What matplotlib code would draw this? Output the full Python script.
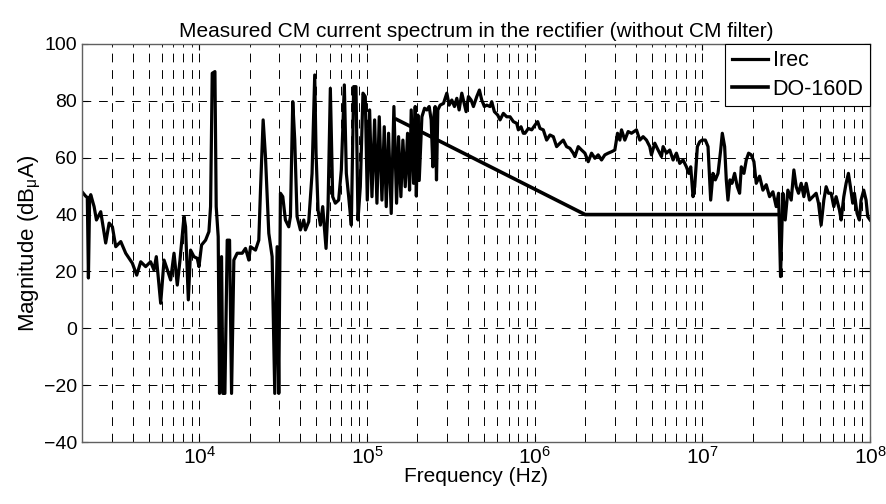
import matplotlib
matplotlib.use("Agg")
import matplotlib.pyplot as plt
from matplotlib.ticker import LogLocator, FixedLocator
import numpy as np

plt.rcParams['font.family'] = ['Liberation Sans', 'DejaVu Sans']
plt.rcParams['mathtext.fontset'] = 'custom'
plt.rcParams['mathtext.rm'] = 'Liberation Sans'
plt.rcParams['mathtext.it'] = 'Liberation Sans:italic'

# measured CM current in the rectifier (Hz, dBuA)
irec_freq = [
    2000, 2100, 2150, 2183, 2220, 2254, 2360, 2437, 2585, 2767, 2900, 3034, 3177,
    3404, 3643, 3990, 4237, 4478, 4790, 5127, 5370, 5545, 5888, 6166, 6457, 6750,
    7070, 7396, 7676, 8110, 8285, 8605, 8877, 9296, 9730,
    9960, 10320, 10905, 11420, 11680, 11950, 12400, 12620, 12970, 13210, 13580,
    13840, 14220, 14680, 15160, 15580, 16080, 16830, 18030, 18870, 19750, 20210,
    21640, 22650, 23180, 24040, 24820, 25980, 27200, 28200, 29130, 29800, 30480,
    31480, 32640, 34170, 34960, 36100, 37100, 38300, 40100, 41980, 42950, 44960,
    47060, 48810, 49710, 51090, 52760, 54470, 57020, 58600, 60490, 62460, 64780,
    67800, 70330, 73300, 75340, 77800, 80680, 83300, 86020, 88410, 91270, 94680,
    97730, 100450, 103730, 107100, 111070, 114670, 118400, 122830, 126810, 130330,
    134570, 139560, 144760, 150170, 154340, 159360, 163790, 169110, 174620, 179480,
    183620, 189600, 193970, 197000, 201240, 204960, 212600, 220530, 227670, 234960,
    241500, 247100, 251000, 255100, 259800, 264600, 273200, 286000, 299400, 309200,
    320600, 332500, 343400, 354500, 367700, 379700, 390200, 402900, 417800, 431400,
    451600, 468400, 483600, 501600, 517900, 542100, 554600, 575300, 602200, 621800,
    650800, 681300, 713200, 746500, 781300, 799400, 829200, 856300,
    876000, 917000, 960000, 1005000, 1042000, 1076000, 1126000, 1179000, 1234000,
    1292000, 1352000, 1415000, 1481000, 1550000, 1623000, 1699000, 1738000, 1819000,
    1905000, 1994000, 2087000, 2184000, 2287000, 2393000, 2505000, 2622000, 2745000,
    2873000, 3007000, 3119000, 3221000, 3296000, 3449000, 3610000,
    3780000, 4047000, 4236000, 4434000, 4642000, 4859000, 4971000, 5204000, 5447000,
    5702000, 5834000, 6107000, 6392000, 6691000, 7004000, 7332000, 7674000, 8033000,
    8294000, 8524000, 8799000, 9003000, 9338000, 9641000, 9954000, 10420000,
    10810000, 11210000, 11570000, 11950000, 12400000, 12860000, 13150000, 13580000,
    13890000, 14210000, 14610000, 15020000, 15570000, 16160000, 16680000, 17070000,
    17700000, 18280000, 18870000, 19570000, 20300000, 20960000, 21940000, 22970000,
    24040000, 25170000, 26340000, 27570000, 28470000, 29260000, 30210000, 31190000,
    32360000, 33870000, 35130000, 36270000, 37450000, 38850000, 40300000, 41600000,
    43550000, 45590000, 47710000, 49260000, 51090000, 53000000, 54720000, 56490000,
    58610000, 60790000, 62760000, 65700000, 67220000, 69730000, 71970000, 74300000,
    76360000, 78840000, 80660000, 83670000, 86390000, 88380000, 91690000, 94670000,
    96850000, 100000000,
]
irec_mag = [
    48.0, 46.5, 46.0, 17.7, 46.0, 47.0, 42.8, 38.1, 41.0, 30.0, 37.0, 35.7, 28.7,
    30.5, 26.4, 22.9, 18.7, 23.4, 21.7, 23.4, 20.5, 25.2, 8.8, 24.0, 20.5, 17.0,
    26.4, 15.2, 24.0, 39.3, 35.7, 10.0, 27.5, 25.2, 24.6,
    21.7, 29.3, 31.0, 34.0, 42.8, 89.7, 90.3, 42.8, 32.2, -22.9, 25.2,
    -22.9, -22.9, 31.0, 31.0, -22.9, 24.0, 26.4, 26.4, 28.1, 24.0, 28.7,
    27.5, 31.0, 48.6, 73.3, 60.4, 33.4, 25.2, -22.9, 28.7, -22.9, 47.5,
    46.3, 38.1, 35.7, 39.3, 79.7, 66.2, 39.3, 34.6, 38.1, 34.6, 37.5,
    54.5, 89.1, 61.6, 41.6, 36.3, 42.8, 28.1, 42.8, 84.4, 46.3, 44.0,
    45.1, 55.7, 85.6, 54.5, 46.3, 36.3, 85.0, 85.0, 38.1, 49.8, 82.7,
    81.5, 45.1, 76.8, 46.3, 73.3, 44.0, 74.4, 45.1, 70.9, 42.8,
    68.6, 40.4, 78.0, 44.0, 67.4, 46.3, 66.2, 49.8, 68.6, 48.6,
    76.8, 51.0, 78.0, 46.5, 75.0, 52.0, 74.4, 77.4, 76.8, 78.0,
    73.3, 56.8, 75.0, 78.0, 52.2, 76.8, 78.5, 79.1, 82.7, 78.5,
    80.3, 78.0, 80.9, 76.8, 82.7, 79.1, 76.2, 81.5, 80.3, 78.0,
    81.5, 83.8, 80.3, 78.0, 78.5, 78.0, 79.7, 76.2, 75.0, 73.3,
    75.6, 74.4, 74.4, 72.7, 72.1, 69.8, 70.9, 68.6,
    68.6, 70.3, 69.8, 71.5, 72.7, 70.3, 69.8, 66.2, 68.0,
    67.4, 63.9, 65.1, 66.2, 63.9, 63.3, 61.6, 60.4, 63.9,
    62.7, 61.6, 58.6, 61.6, 59.8, 61.0, 59.2, 61.0, 61.6,
    62.1, 62.7, 68.6, 66.2, 69.8, 66.2, 69.2,
    68.6, 69.8, 66.2, 67.4, 66.2, 63.9, 61.0, 65.1, 62.7,
    60.4, 63.9, 61.6, 62.7, 59.2, 61.6, 58.0, 59.2, 56.8,
    54.5, 56.8, 46.3, 49.8, 63.9, 65.6, 66.2, 66.2,
    63.9, 45.1, 54.5, 52.2, 54.5, 62.7, 68.6, 63.9,
    52.2, 45.1, 52.2, 51.0, 54.5, 49.8, 47.5, 56.8,
    54.5, 59.2, 61.6, 61.0, 58.6, 51.0, 53.5, 48.6,
    50.5, 46.3, 48.0, 42.8, 47.5, 18.2, 47.5, 38.1,
    48.6, 45.1, 55.7, 49.8, 47.5, 51.0, 46.3, 51.0,
    45.1, 46.3, 47.5, 44.0, 36.3, 45.1, 49.8, 47.5,
    47.5, 42.8, 46.3, 41.6, 38.1, 46.3, 51.0, 54.5,
    49.8, 44.0, 47.5, 40.4, 38.1, 45.1, 48.6, 45.1,
    39.3, 38.1,
]

# DO-160D limit line
do160_freq = [1.5e5, 2e6, 2.8e7]
do160_mag = [73.5, 40.0, 40.0]

fig = plt.figure(figsize=(8.86, 5.04), dpi=100)
ax = fig.add_axes([0.0926, 0.123, 0.8894, 0.7897])

ax.semilogx(irec_freq, irec_mag, color='k', lw=2.3, label='Irec')
ax.semilogx(do160_freq, do160_mag, color='k', lw=2.6, label='DO-160D')

ax.set_xlim(2e3, 1e8)
ax.set_ylim(-40, 100)
ax.yaxis.set_major_locator(FixedLocator(np.arange(-40, 101, 20)))
ax.xaxis.set_major_locator(LogLocator(base=10, numticks=12))
ax.xaxis.set_minor_locator(LogLocator(base=10, subs=np.arange(2, 10), numticks=12))

grid_style = dict(color='k', lw=0.7, linestyle=(0, (9, 8)))
ax.grid(True, which='both', axis='x', **grid_style)
ax.grid(True, which='major', axis='y', **grid_style)
ax.set_axisbelow(True)

ax.tick_params(which='both', direction='in', top=True, right=True)
ax.tick_params(axis='y', labelsize=14)
ax.tick_params(axis='x', labelsize=15, pad=3)
ax.tick_params(which='major', length=4)
ax.tick_params(which='minor', length=2.5)
for sp in ax.spines.values():
    sp.set_color('#606060')
    sp.set_linewidth(1.0)

ax.set_title('Measured CM current spectrum in the rectifier (without CM filter)', fontsize=15, pad=5)
ax.set_xlabel('Frequency (Hz)', fontsize=15, labelpad=-1)
ax.set_ylabel('Magnitude (dB$_{\\mathrm{\u03bc}}$A)', fontsize=16, labelpad=1)

leg = ax.legend(loc='upper right', fontsize=15.5, handlelength=1.7, handletextpad=0.2,
                borderaxespad=0, fancybox=False, framealpha=1, borderpad=0.3,
                labelspacing=0.35)
leg.get_frame().set_edgecolor('k')
leg.get_frame().set_linewidth(0.8)

fig.savefig('out.png', dpi=100)
